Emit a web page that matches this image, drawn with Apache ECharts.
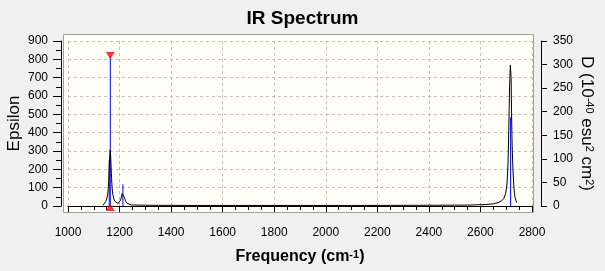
<!DOCTYPE html>
<html><head><meta charset="utf-8">
<script src="https://cdn.jsdelivr.net/npm/echarts@6/dist/echarts.min.js"></script>
<style>html,body{margin:0;padding:0;background:#f0f0f0;}#c{width:605px;height:271px;}</style>
</head><body><div id="c"></div>
<script>
// ---- data ----
const titleText = 'IR Spectrum';
const curveFreq = [1136,1140,1146,1150,1153,1156,1158,1160,1162,1163.5,1165,1167,1169,1171,1174,1178,1183,1189,1195,1200,1204,1207,1210,1213,1216,1219,1223,1228,1235,1245,1300,1500,1800,2100,2400,2550,2620,2650,2668,2682,2691,2698,2703,2707,2710,2713,2716,2719,2721,2723,2726,2730,2734,2738,2741];
const curveEps  = [4,12,24,38,55,90,140,210,280,305,285,220,150,100,62,38,24,16,14,20,32,48,68,76,66,45,28,16,10,6,4,3,3,3,4,5,8,12,18,28,42,70,120,230,420,650,768,700,480,330,200,95,48,28,18];
const stickFreq = [1160, 1164, 1213, 2717];
const stickD    = [97, 318, 46, 188];
const selectedFreq = 1164;
const selectedTopD = 319;
const selectedBottomD = -3;
const epsMin = 0, epsMax = 900, epsStep = 100;
const dMin = 0, dMax = 350, dStep = 50;
const fMin = 1000, fMax = 2800, fStep = 200;

const FONT = 'Liberation Sans';
const chart = echarts.init(document.getElementById('c'), null, {renderer:'canvas'});

const series = [];
stickFreq.forEach((f, i) => {
  series.push({type:'line', xAxisIndex:0, yAxisIndex:1, data:[[f,0],[f,stickD[i]]],
    symbol:'none', lineStyle:{color:'#0000ff', width:1}, z:2, silent:true, animation:false});
});
series.push({type:'line', xAxisIndex:0, yAxisIndex:0,
  data: curveFreq.map((f,i)=>[f, curveEps[i]]),
  symbol:'none', lineStyle:{color:'#000', width:1}, z:3, animation:false});
series.push({type:'scatter', yAxisIndex:1, data:[[selectedFreq, selectedTopD]], symbol:'triangle',
  symbolRotate:180, symbolSize:[9,7], itemStyle:{color:'#ff0000'}, z:4, clip:false, animation:false});
series.push({type:'scatter', yAxisIndex:1, data:[[selectedFreq, selectedBottomD]], symbol:'triangle',
  symbolSize:[9,7], itemStyle:{color:'#ff0000'}, z:4, clip:false, animation:false});

const plain = v => String(v);
const lbl = {color:'#000', fontSize:12, fontFamily:FONT, formatter:plain};
chart.setOption({
  backgroundColor:'#f0f0f0',
  animation:false,
  title:{text:titleText, left:'center', top:4, textStyle:{fontFamily:FONT, fontSize:19, fontWeight:'bold', color:'#000'}},
  graphic:[{type:'rect', z:-1, shape:{x:63.5, y:34.5, width:470, height:178},
    style:{fill:'#fffff7', stroke:'#a0a0a0', lineWidth:1}}],
  grid:{left:68, right:73, top:41, bottom:65, containLabel:false, outerBoundsMode:'none'},
  xAxis:{type:'value', min:fMin, max:fMax, interval:fStep, offset:9,
    axisLine:{show:true, lineStyle:{color:'#000', width:1}},
    axisTick:{show:true, length:6, lineStyle:{color:'#000'}},
    minorTick:{show:true, splitNumber:4, length:4, lineStyle:{color:'#000'}},
    axisLabel:Object.assign({margin:12}, lbl),
    splitLine:{show:true, lineStyle:{color:'#c0c0c0', type:[3,3]}},
    name:'{a|Frequency (cm}{s|-1}{a|)}', nameLocation:'middle', nameGap:34, nameMoveOverlap:false,
    nameTextStyle:{rich:{a:{fontFamily:FONT, fontSize:16, fontWeight:'bold', color:'#000'},
                         s:{fontFamily:FONT, fontSize:11, fontWeight:'bold', color:'#000', verticalAlign:'top'}}}
  },
  yAxis:[
    {type:'value', min:epsMin, max:epsMax, interval:epsStep, offset:7, position:'left',
     axisLine:{show:true, lineStyle:{color:'#000'}},
     axisTick:{show:true, length:8, lineStyle:{color:'#000'}},
     minorTick:{show:true, splitNumber:2, length:5, lineStyle:{color:'#000'}},
     axisLabel:Object.assign({margin:13}, lbl),
     splitLine:{show:true, lineStyle:{color:'#c0c0c0', type:[3,3]}},
     name:'Epsilon', nameLocation:'middle', nameGap:38, nameMoveOverlap:false,
     nameTextStyle:{fontFamily:FONT, fontSize:17, color:'#000'}
    },
    {type:'value', min:dMin, max:dMax, interval:dStep, offset:9, position:'right',
     axisLine:{show:true, lineStyle:{color:'#000'}},
     axisTick:{show:true, length:6, lineStyle:{color:'#000'}},
     axisLabel:Object.assign({margin:12}, lbl),
     splitLine:{show:false},
     name:'{a|D (10}{s|-40}{a| esu}{s|2}{a| cm}{s|2}{a|)}', nameLocation:'middle', nameGap:37, nameRotate:-90, nameMoveOverlap:false,
     nameTextStyle:{rich:{a:{fontFamily:FONT, fontSize:17, color:'#000'},
                          s:{fontFamily:FONT, fontSize:11, color:'#000', verticalAlign:'top'}}}
    }
  ],
  series: series
});
</script></body></html>
